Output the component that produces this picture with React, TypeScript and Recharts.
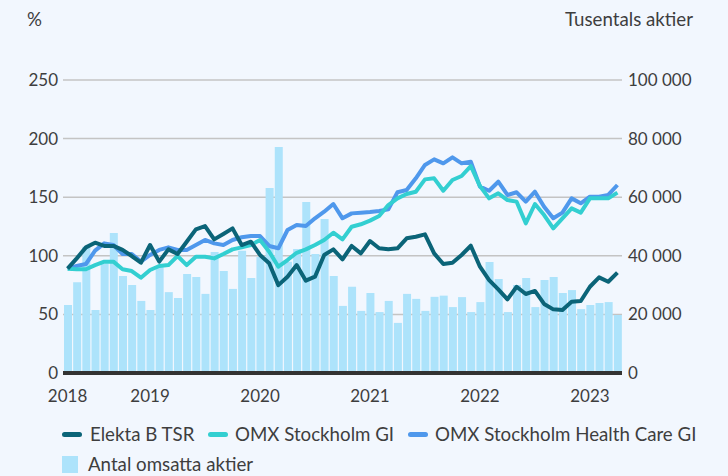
import React from 'react';
import { ComposedChart, Bar, Line, XAxis, YAxis, CartesianGrid } from 'recharts';

const months = [
  '2018-04','2018-05','2018-06','2018-07','2018-08','2018-09','2018-10','2018-11','2018-12',
  '2019-01','2019-02','2019-03','2019-04','2019-05','2019-06','2019-07','2019-08','2019-09','2019-10','2019-11','2019-12',
  '2020-01','2020-02','2020-03','2020-04','2020-05','2020-06','2020-07','2020-08','2020-09','2020-10','2020-11','2020-12',
  '2021-01','2021-02','2021-03','2021-04','2021-05','2021-06','2021-07','2021-08','2021-09','2021-10','2021-11','2021-12',
  '2022-01','2022-02','2022-03','2022-04','2022-05','2022-06','2022-07','2022-08','2022-09','2022-10','2022-11','2022-12',
  '2023-01','2023-02','2023-03','2023-04',
];

const elektaTSR = [
  89, 97.8, 107.2, 111.2, 108.4, 108.4, 105, 99.8, 94.1, 109.2, 95,
  105.5, 101.5, 112, 122.6, 125.4, 114, 118.6, 123.4, 109.2, 112,
  100.7, 93.6, 75, 82.2, 92.1, 78.8, 82.2, 100.7, 105.5, 97,
  108.4, 102.1, 112.6, 106.4, 105.5, 106.4, 114.9, 116.3, 118.3, 102.1,
  93, 94.1, 100.7, 108.6, 90.7, 79.3, 71.4, 62.9, 73.6, 67.4,
  70, 58.9, 54.3, 53.8, 60.8, 61.4, 73.6, 81.6, 77.9, 85.6,
];

const omxGI = [
  89, 88.5, 88.5, 92.1, 95, 95, 88.5, 87, 81.3, 87.9, 91.3,
  92.1, 99.8, 92.1, 99.2, 99.2, 97.8, 101.5, 105.5, 107.2, 109.2,
  113.5, 103.5, 90.7, 96.4, 102.6, 105.5, 109.2, 113.5, 119.7, 114,
  124.8, 126.9, 130, 134, 143.3, 149, 152.7, 154.7, 165.2, 166.1,
  155.5, 164.7, 168.1, 176.6, 159.5, 149, 153.3, 147.6, 146.2, 127.7,
  144.2, 134.8, 123.4, 132, 140.5, 136.8, 149, 149, 149, 153.9,
];

const omxHealthCare = [
  89, 91.3, 93, 104.4, 110.6, 109.2, 101.5, 101.5, 95, 100.7, 105,
  107.2, 105, 105, 109.2, 113.5, 110.6, 109.2, 113.5, 115.8, 116.9,
  116.9, 108.4, 106.4, 122, 126.3, 125.4, 132, 137.6, 144.2, 132,
  136.2, 136.8, 137.4, 138.2, 139.6, 154.2, 156.1, 166.1, 177.5, 182.3,
  178.9, 184, 178.9, 180.3, 159, 155.5, 163.2, 151.9, 154.2, 146.2,
  154.7, 141.9, 132, 136.8, 149, 144.8, 150.4, 150.4, 151.9, 160.4,
];

const tradedShares = [
  23200, 31000, 43100, 21500, 37400, 47800, 33100, 30000, 24600, 21500,
  36300, 27600, 25600, 33800, 32800, 27000, 41300, 34800, 28700, 41700,
  32400, 39600, 63100, 77100, 38000, 42300, 58400, 40600, 52600, 33100,
  22900, 29400, 21200, 27300, 20800, 24600, 17100, 27000, 25300, 21200,
  26000, 26400, 22500, 25900, 20800, 24200, 37900, 32100, 20800, 30000,
  32400, 22500, 31700, 32800, 27300, 28300, 21800, 23200, 23900, 24200, 19800,
];

const xTicks = ['2018-04', '2019-01', '2020-01', '2021-01', '2022-01', '2023-01'];
const leftTicks = [0, 50, 100, 150, 200, 250];
const rightTicks = [0, 20000, 40000, 60000, 80000, 100000];

const seriesNames = ['Elekta B TSR', 'OMX Stockholm GI', 'OMX Stockholm Health Care GI', 'Antal omsatta aktier'];

const COLORS = {
  elekta: '#0b6478',
  omx: '#33cfd1',
  health: '#4f98ec',
  bars: '#ade3fb',
  bg: '#f2f7fe',
  text: '#3e3e3e',
};

const data = months.map((m, i) => ({
  month: m,
  elekta: elektaTSR[i],
  omx: omxGI[i],
  health: omxHealthCare[i],
  volume: tradedShares[i],
}));

const FONT = 'Lato, "Open Sans", sans-serif';
const WORD_SIZE = 18.7;

const fmtThousands = (v: number) => String(v).replace(/\B(?=(\d{3})+(?!\d))/g, ' ');

function LineIcon({ color }: { color: string }) {
  return (
    <span style={{ display: 'inline-block', width: 20, height: 5, borderRadius: 3, background: color }} />
  );
}

export default function App() {
  return (
    <div style={{ position: 'absolute', left: 0, top: 0, width: 728, height: 476, background: COLORS.bg, fontFamily: FONT, color: COLORS.text, overflow: 'hidden' }}>
      <div style={{ position: 'absolute', left: 27, top: 8, fontSize: WORD_SIZE }}>%</div>
      <div style={{ position: 'absolute', right: 35, top: 8, fontSize: WORD_SIZE }}>Tusentals aktier</div>
      <div style={{ position: 'absolute', left: 0, top: 0 }}>
        <ComposedChart width={728} height={476} data={data} margin={{ top: 80, right: 0, bottom: 73, left: 0 }}>
          <CartesianGrid vertical={false} stroke="#c4c4c4" strokeWidth={1.5} yAxisId="left" />
          <XAxis
            dataKey="month"
            ticks={xTicks}
            interval={0}
            tickFormatter={(v: string) => v.slice(0, 4)}
            tickLine={false}
            tickSize={0}
            tickMargin={17}
            height={30}
            axisLine={{ stroke: '#333333', strokeWidth: 4 }}
            tick={{ fill: COLORS.text, fontSize: 17, fontFamily: FONT }}
          />
          <YAxis
            yAxisId="left"
            orientation="left"
            width={63}
            domain={[0, 250]}
            ticks={leftTicks}
            axisLine={false}
            tickLine={false}
            tickSize={0}
            tickMargin={5}
            tick={{ fill: COLORS.text, fontSize: 17, fontFamily: FONT }}
          />
          <YAxis
            yAxisId="right"
            orientation="right"
            width={106}
            domain={[0, 100000]}
            ticks={rightTicks}
            tickFormatter={fmtThousands}
            axisLine={false}
            tickLine={false}
            tickSize={0}
            tickMargin={6}
            tick={{ fill: COLORS.text, fontSize: 17, fontFamily: FONT, textAnchor: 'start' }}
          />
          <Bar yAxisId="right" dataKey="volume" name={seriesNames[3]} fill={COLORS.bars} barSize={8} isAnimationActive={false} />
          <Line yAxisId="left" dataKey="health" name={seriesNames[2]} stroke={COLORS.health} strokeWidth={4} dot={false} strokeLinejoin="round" isAnimationActive={false} />
          <Line yAxisId="left" dataKey="omx" name={seriesNames[1]} stroke={COLORS.omx} strokeWidth={4} dot={false} strokeLinejoin="round" isAnimationActive={false} />
          <Line yAxisId="left" dataKey="elekta" name={seriesNames[0]} stroke={COLORS.elekta} strokeWidth={4} dot={false} strokeLinejoin="round" isAnimationActive={false} />
        </ComposedChart>
      </div>
      <div style={{ position: 'absolute', left: 62, top: 423, height: 22, display: 'flex', alignItems: 'center', fontSize: WORD_SIZE }}>
        <LineIcon color={COLORS.elekta} />
        <span style={{ marginLeft: 8 }}>{seriesNames[0]}</span>
      </div>
      <div style={{ position: 'absolute', left: 208, top: 423, height: 22, display: 'flex', alignItems: 'center', fontSize: WORD_SIZE }}>
        <LineIcon color={COLORS.omx} />
        <span style={{ marginLeft: 7 }}>{seriesNames[1]}</span>
      </div>
      <div style={{ position: 'absolute', left: 408, top: 423, height: 22, display: 'flex', alignItems: 'center', fontSize: WORD_SIZE }}>
        <LineIcon color={COLORS.health} />
        <span style={{ marginLeft: 7 }}>{seriesNames[2]}</span>
      </div>
      <div style={{ position: 'absolute', left: 62, top: 453, height: 22, display: 'flex', alignItems: 'center', fontSize: WORD_SIZE }}>
        <span style={{ display: 'inline-block', width: 16, height: 17, background: COLORS.bars }} />
        <span style={{ marginLeft: 10 }}>{seriesNames[3]}</span>
      </div>
    </div>
  );
}
